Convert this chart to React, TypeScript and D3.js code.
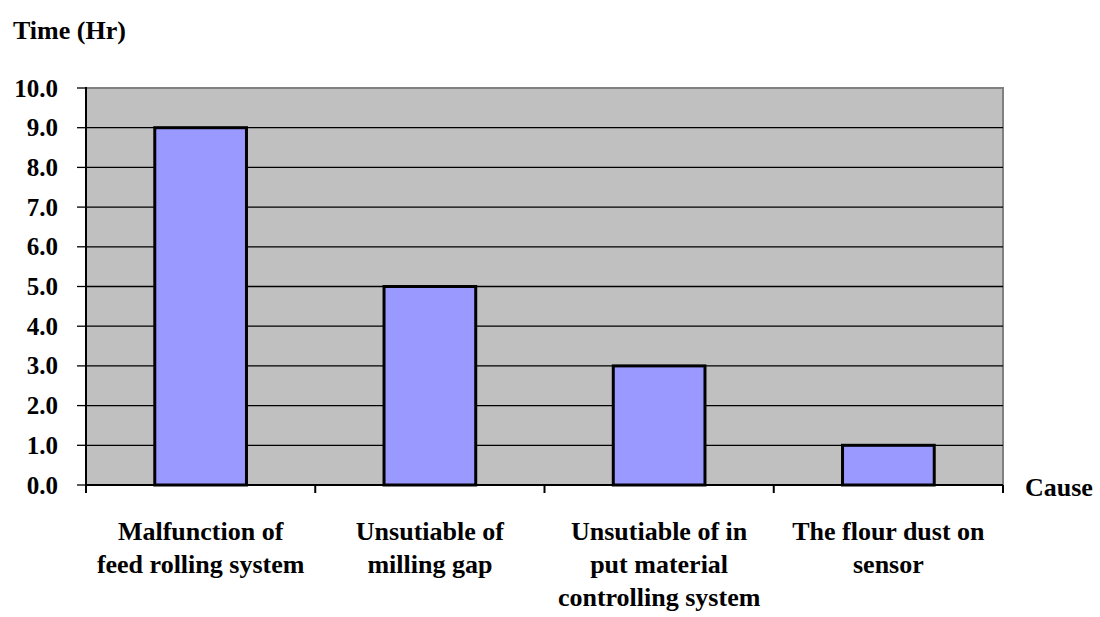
import React from "react";
import * as d3 from "d3";

const causes: string[][] = [
  ["Malfunction of", "feed rolling system"],
  ["Unsutiable of", "milling gap"],
  ["Unsutiable of in", "put material", "controlling system"],
  ["The flour dust on", "sensor"],
];
const hours: number[] = [9.0, 5.0, 3.0, 1.0];
const yTicks: number[] = [0, 1, 2, 3, 4, 5, 6, 7, 8, 9, 10];

const W = 1100;
const H = 617;
const plot = { left: 86, right: 1003, top: 88, bottom: 485 };
const FONT = "Liberation Serif, DejaVu Serif, serif";

export default function App() {
  const keys = causes.map((_, i) => String(i));
  const x = d3
    .scaleBand<string>()
    .domain(keys)
    .range([plot.left, plot.right])
    .paddingInner(0.6)
    .paddingOuter(0.3);
  const step = x.step();
  const y = d3.scaleLinear().domain([0, 10]).range([plot.bottom, plot.top]);
  const boundaries = d3.range(causes.length + 1).map((i) => plot.left + i * step);
  const textStyle = { fontFamily: FONT, fontWeight: 700 } as const;

  return (
    <svg
      width={W}
      height={H}
      style={{ position: "absolute", left: 0, top: 0, background: "#fff" }}
    >
      {/* plot background */}
      <rect
        x={plot.left}
        y={plot.top}
        width={plot.right - plot.left}
        height={plot.bottom - plot.top}
        fill="#C0C0C0"
        stroke="#808080"
        strokeWidth={2}
      />
      {/* horizontal gridlines */}
      {yTicks.slice(1, -1).map((t) => (
        <line
          key={"g" + t}
          x1={plot.left}
          x2={plot.right}
          y1={y(t)}
          y2={y(t)}
          stroke="#000"
          strokeWidth={1.3}
        />
      ))}
      {/* bars */}
      {hours.map((v, i) => (
        <rect
          key={"b" + i}
          x={x(String(i))!}
          y={y(v)}
          width={x.bandwidth()}
          height={y(0) - y(v)}
          fill="#9999FF"
          stroke="#000"
          strokeWidth={3}
        />
      ))}
      {/* y axis */}
      <line x1={plot.left} x2={plot.left} y1={plot.top - 1} y2={plot.bottom} stroke="#000" strokeWidth={2} />
      {yTicks.map((t) => (
        <g key={"t" + t}>
          <line x1={plot.left - 9} x2={plot.left} y1={y(t)} y2={y(t)} stroke="#000" strokeWidth={1.3} />
          <text x={58} y={y(t)} dy="0.34em" textAnchor="end" fontSize={25} style={textStyle}>
            {d3.format(".1f")(t)}
          </text>
        </g>
      ))}
      {/* x axis */}
      <line x1={plot.left} x2={plot.right} y1={plot.bottom} y2={plot.bottom} stroke="#000" strokeWidth={2} />
      {boundaries.map((bx, i) => (
        <line key={"xt" + i} x1={bx} x2={bx} y1={plot.bottom} y2={plot.bottom + 8} stroke="#000" strokeWidth={2} />
      ))}
      {/* category labels */}
      {causes.map((lines, i) => {
        const cx = x(String(i))! + x.bandwidth() / 2;
        return (
          <text key={"c" + i} x={cx} y={540} textAnchor="middle" fontSize={26} style={textStyle}>
            {lines.map((l, j) => (
              <tspan key={j} x={cx} dy={j === 0 ? 0 : 33}>
                {l}
              </tspan>
            ))}
          </text>
        );
      })}
      {/* axis titles */}
      <text x={13} y={39} fontSize={26} style={textStyle}>
        Time (Hr)
      </text>
      <text x={1025} y={496} fontSize={26} style={textStyle}>
        Cause
      </text>
    </svg>
  );
}
